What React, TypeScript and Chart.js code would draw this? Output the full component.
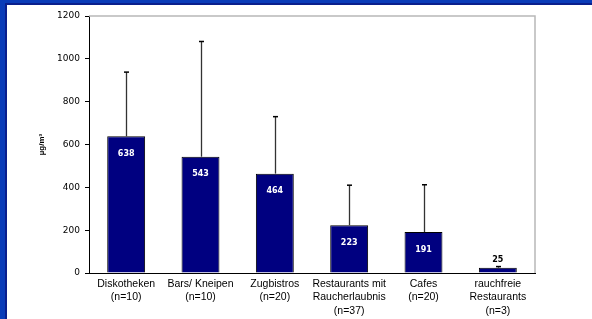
import React, { useEffect, useRef } from "react";
import { Chart, registerables } from "chart.js";

Chart.register(...registerables);

const categories: string[][] = [
  ["Diskotheken", "(n=10)"],
  ["Bars/ Kneipen", "(n=10)"],
  ["Zugbistros", "(n=20)"],
  ["Restaurants mit", "Raucherlaubnis", "(n=37)"],
  ["Cafes", "(n=20)"],
  ["rauchfreie", "Restaurants", "(n=3)"],
];
const means: number[] = [638, 543, 464, 223, 191, 25];
const sd: number[] = [300, 538, 266, 187, 221, 5];
const yTitle = "µg/m³";
const yMax = 1200;
const yStep = 200;

const errorBarPlugin = {
  id: "errorBars",
  afterDatasetsDraw(chart: any) {
    const { ctx } = chart;
    const meta = chart.getDatasetMeta(0);
    const yScale = chart.scales.y;
    ctx.save();
    meta.data.forEach((bar: any, i: number) => {
      const top = yScale.getPixelForValue(means[i] + sd[i]);
      const x = Math.round(bar.x) + 0.5;
      ctx.strokeStyle = "#333";
      ctx.lineWidth = 1.3;
      ctx.beginPath();
      ctx.moveTo(x, bar.y);
      ctx.lineTo(x, top);
      ctx.stroke();
      ctx.strokeStyle = "#000";
      ctx.lineWidth = 1.5;
      ctx.beginPath();
      ctx.moveTo(x - 2.5, top);
      ctx.lineTo(x + 2.5, top);
      ctx.stroke();
    });
    meta.data.forEach((bar: any, i: number) => {
      const h = bar.base - bar.y;
      ctx.font = "bold 8px 'DejaVu Sans'";
      ctx.textAlign = "center";
      ctx.textBaseline = "middle";
      if (h > 25) {
        ctx.fillStyle = "#fff";
        ctx.fillText(String(means[i]), bar.x, bar.y + 17.5);
      } else {
        ctx.fillStyle = "#000";
        ctx.fillText(String(means[i]), bar.x, bar.y - 8);
      }
    });
    ctx.restore();
  },
};

const plotBorderPlugin = {
  id: "plotBorder",
  beforeDatasetsDraw(chart: any) {
    const { ctx, chartArea } = chart;
    ctx.save();
    ctx.strokeStyle = "#b8b8b8";
    ctx.lineWidth = 1.5;
    ctx.beginPath();
    ctx.moveTo(chartArea.left, chartArea.top);
    ctx.lineTo(chartArea.right, chartArea.top);
    ctx.lineTo(chartArea.right, chartArea.bottom);
    ctx.stroke();
    ctx.restore();
  },
};

export default function App() {
  const ref = useRef<HTMLCanvasElement>(null);
  useEffect(() => {
    if (!ref.current) return;
    const chart = new Chart(ref.current, {
      type: "bar",
      data: {
        labels: categories,
        datasets: [
          {
            data: means,
            backgroundColor: "#000080",
            borderColor: "#000",
            borderWidth: 1,
            barPercentage: 0.51,
            categoryPercentage: 1,
          },
        ],
      },
      options: {
        responsive: false,
        animation: false,
        layout: { padding: { left: 37, right: 57, top: 16, bottom: 0 } },
        plugins: {
          legend: { display: false },
          tooltip: { enabled: false },
        },
        scales: {
          x: {
            grid: { display: false, drawTicks: false },
            border: { display: true, color: "#000", width: 1 },
            ticks: {
              color: "#000",
              font: { family: "'Liberation Sans', Arial", size: 10.5, lineHeight: 1.3 },
              padding: 4,
              maxRotation: 0,
              minRotation: 0,
              autoSkip: false,
            },
            afterFit(scale: any) {
              scale.height = 46;
            },
          },
          y: {
            min: 0,
            max: yMax,
            ticks: {
              stepSize: yStep,
              color: "#000",
              padding: 5,
              font: { family: "'DejaVu Sans'", size: 9 },
              callback: (v: any) => String(v),
            },
            grid: {
              drawOnChartArea: false,
              tickLength: 4,
              color: "#000",
            },
            border: { display: true, color: "#000", width: 1 },
            title: {
              display: true,
              text: yTitle,
              color: "#000",
              padding: 0,
              font: { family: "'Liberation Sans', Arial", size: 8, weight: "bold" },
            },
            afterFit(scale: any) {
              scale.width = 52;
            },
          },
        },
      },
      plugins: [plotBorderPlugin, errorBarPlugin],
    });
    return () => chart.destroy();
  }, []);

  return (
    <div
      style={{
        position: "fixed",
        left: 0,
        top: 0,
        width: 592,
        height: 319,
        background: "#fff",
        overflow: "hidden",
      }}
    >
      <div style={{ position: "absolute", left: 0, top: 0, width: 5, height: 319, background: "#0a3cb8" }} />
      <div style={{ position: "absolute", left: 5, top: 0, width: 2, height: 319, background: "#0a1f8c" }} />
      <div style={{ position: "absolute", left: 0, top: 0, width: 592, height: 3, background: "#0a3cb8" }} />
      <div style={{ position: "absolute", left: 5, top: 3, width: 587, height: 2, background: "#0a1f8c" }} />
      <canvas ref={ref} width={592} height={319} style={{ position: "absolute", left: 0, top: 0 }} />
    </div>
  );
}
